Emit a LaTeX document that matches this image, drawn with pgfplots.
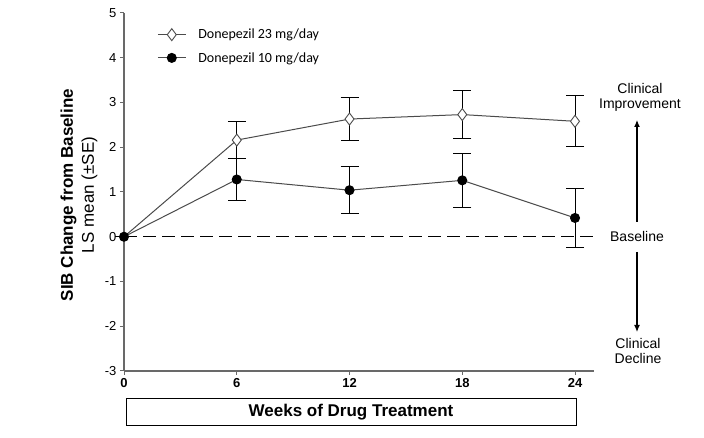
\documentclass[border=0pt]{standalone}
\usepackage{fontspec}
\setmainfont{Liberation Sans}
\newfontfamily\calibri{Carlito}
\usepackage{pgfplots}
\pgfplotsset{compat=1.18}
\usetikzlibrary{arrows.meta}
\definecolor{axgray}{RGB}{105,105,105}
\definecolor{lngray}{RGB}{75,75,75}
\newcommand{\legfont}{\calibri\fontsize{14}{17}\selectfont}
\begin{document}
\begin{tikzpicture}
\begin{axis}[
  scale only axis, width=470pt, height=358pt,
  xmin=0, xmax=25.01, ymin=-3, ymax=5,
  axis x line*=bottom, axis y line*=left,
  axis line style={axgray, line width=1.3pt, -},
  xtick={0,6,12,18,24}, ytick={-3,-2,-1,0,1,2,3,4,5},
  tick align=outside, major tick length=4pt,
  tick style={axgray, line width=1pt},
  /pgf/number format/assume math mode=true,
  xticklabel style={font=\fontsize{13}{15}\selectfont\bfseries},
  yticklabel style={font=\fontsize{13}{15}\selectfont},
  clip=false,
  legend image code/.code={\draw[mark repeat=2,mark phase=2] plot coordinates {(0pt,0pt) (14pt,0pt) (28pt,0pt)};},
  legend style={draw=none, fill=none, at={(axis cs:1.76,4.69)}, anchor=north west,
    inner sep=0pt, row sep=8pt, font=\legfont,
    /tikz/every odd column/.append style={column sep=10pt}},
  legend cell align=left,
]
\coordinate (O) at (axis cs:0,-3);
\addplot[black, line width=1pt, dash pattern=on 13pt off 6pt, forget plot] coordinates {(0,0) (25.01,0)};
\addplot[lngray, line width=1pt, mark=diamond*, mark size=6pt, mark indices={2,3,4,5}, forget plot,
  mark options={fill=white, draw=lngray, line width=0.9pt, solid},
  error bars/.cd, y dir=both, y explicit,
  error bar style={black, line width=0.9pt},
  error mark options={black, line width=0.9pt, mark size=9pt, rotate=90}]
  coordinates {
  (0,0) +- (0,0)
  (6,2.16) +- (0,0.42)
  (12,2.63) +- (0,0.48)
  (18,2.73) +- (0,0.54)
  (24,2.58) +- (0,0.57)
  };
\addplot[lngray, line width=1pt, mark=*, mark size=4.5pt, forget plot,
  mark options={fill=black, draw=black, solid},
  error bars/.cd, y dir=both, y explicit,
  error bar style={black, line width=0.9pt},
  error mark options={black, line width=0.9pt, mark size=9pt, rotate=90}]
  coordinates {
  (0,0) +- (0,0)
  (6,1.28) +- (0,0.47)
  (12,1.04) +- (0,0.53)
  (18,1.26) +- (0,0.61)
  (24,0.42) +- (0,0.66)
  };
\addlegendimage{lngray, line width=1pt, mark=diamond*, mark size=6pt, mark options={fill=white, draw=lngray, line width=0.9pt, solid}}
\addlegendentry{\legfont Donepezil 23 mg/day}
\addlegendimage{lngray, line width=1pt, mark=*, mark size=4.5pt, mark options={fill=black, draw=black, solid}}
\addlegendentry{\legfont Donepezil 10 mg/day}
\end{axis}
% annotations (px = pt; O is at px (124,371))
\node[align=center, font=\fontsize{17}{21}\selectfont, rotate=90] at ([shift={(-45pt,176pt)}]O)
  {\bfseries SIB Change from Baseline\\LS mean (±SE)};
\node[align=center, font=\fontsize{14}{14.5}\selectfont] at ([shift={(516pt,273.5pt)}]O) {Clinical\\Improvement};
\node[font=\fontsize{14}{14.5}\selectfont] at ([shift={(513pt,134.3pt)}]O) {Baseline};
\node[align=center, font=\fontsize{14}{14.5}\selectfont] at ([shift={(514pt,20pt)}]O) {Clinical\\Decline};
\draw[black, line width=1.2pt, -{Latex[length=7pt,width=6pt]}] ([shift={(513pt,149pt)}]O) -- ([shift={(513pt,251pt)}]O);
\draw[black, line width=1.2pt, -{Latex[length=7pt,width=6pt]}] ([shift={(513pt,119pt)}]O) -- ([shift={(513pt,39pt)}]O);
\draw[black, line width=1pt] ([shift={(2pt,-28pt)}]O) rectangle ([shift={(452pt,-55pt)}]O);
\node[font=\fontsize{17}{19}\selectfont\bfseries] at ([shift={(227pt,-41.5pt)}]O) {Weeks of Drug Treatment};
\pgfresetboundingbox
\path ([shift={(-124pt,-67pt)}]O) rectangle ++(704pt,438pt);
\end{tikzpicture}
\end{document}
